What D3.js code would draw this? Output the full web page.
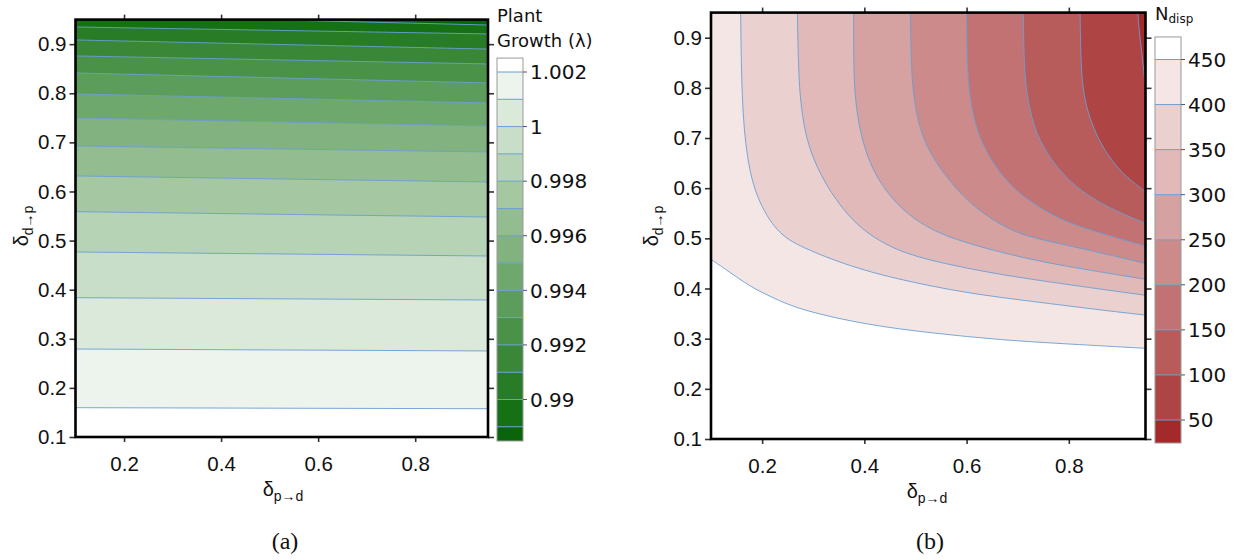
<!DOCTYPE html>
<html>
<head>
<meta charset="utf-8">
<script src="https://cdn.jsdelivr.net/npm/d3@7"></script>
<style>
  body { margin: 0; background: #fff; }
  svg { display: block; }
</style>
</head>
<body>
<div id="chart"></div>
<script>
// shared axis ticks
const xTickValues = [0.2, 0.4, 0.6, 0.8]
const yTickValues = [0.1, 0.2, 0.3, 0.4, 0.5, 0.6, 0.7, 0.8, 0.9]
const domainXY = [0.1, 0.95]

// (a) plant growth lambda: contour levels, colour of band just below each level
const lambdaLevels = [1.002, 1.001, 1.0, 0.999, 0.998, 0.997, 0.996, 0.995, 0.994, 0.993, 0.992, 0.991, 0.99, 0.989]
const lambdaColors = ["#edf4ed", "#dbe9da", "#c9dec8", "#b7d3b5", "#a5c8a3", "#93bd91", "#81b27f",
  "#6fa86d", "#5d9d5b", "#4b9249", "#398737", "#277c25", "#157113", "#0a650a"]
// contour lines, [δp→d, δd→p]
const lambdaLines = [
  [[0.1, 0.1597], [0.95, 0.1576]],
  [[0.1, 0.2792], [0.95, 0.2752]],
  [[0.1, 0.3837], [0.95, 0.379]],
  [[0.1, 0.4768], [0.95, 0.4686]],
  [[0.1, 0.5589], [0.95, 0.548]],
  [[0.1, 0.6316], [0.95, 0.6193]],
  [[0.1, 0.6927], [0.95, 0.6804]],
  [[0.1, 0.7497], [0.95, 0.7334]],
  [[0.1, 0.7986], [0.95, 0.7802]],
  [[0.1, 0.8413], [0.95, 0.821]],
  [[0.1, 0.876], [0.95, 0.8597]],
  [[0.1, 0.9086], [0.95, 0.89]],
  [[0.1, 0.935], [0.95, 0.9208]],
  [[0.494, 0.95], [0.95, 0.939]]
]
const lambdaRange = [0.98848, 1.00251]
const lambdaTickValues = [0.99, 0.992, 0.994, 0.996, 0.998, 1.0, 1.002]
const lambdaTickLabels = ["0.99", "0.992", "0.994", "0.996", "0.998", "1", "1.002"]

// (b) N_disp
const ndispLevels = [450, 400, 350, 300, 250, 200, 150, 100, 50]
const ndispColors = ["#f5e6e6", "#ebd0d0", "#e1b9b9", "#d6a1a1", "#cc8a8a", "#c27272", "#b85b5b", "#ae4444", "#a42a2a"]
const ndispLines = [
  [[0.1, 0.458], [0.1308, 0.4369], [0.1765, 0.4036], [0.2222, 0.3811], [0.2745, 0.3572], [0.4053, 0.3273],
    [0.5359, 0.3107], [0.6667, 0.2974], [0.7974, 0.2894], [0.95, 0.2808]],
  [[0.158, 0.95], [0.16, 0.775], [0.17, 0.656], [0.19, 0.577], [0.229, 0.511], [0.2745, 0.483],
    [0.3725, 0.4435], [0.471, 0.417], [0.601, 0.3905], [0.731, 0.374], [0.863, 0.357], [0.95, 0.347]],
  [[0.269, 0.95], [0.271, 0.842], [0.2745, 0.776], [0.284, 0.709], [0.3006, 0.656], [0.327, 0.603],
    [0.359, 0.5565], [0.395, 0.518], [0.44, 0.488], [0.4967, 0.4634], [0.614, 0.437], [0.732, 0.417], [0.95, 0.3865]],
  [[0.379, 0.95], [0.379, 0.842], [0.382, 0.776], [0.392, 0.709], [0.412, 0.643], [0.4445, 0.59],
    [0.4837, 0.548], [0.535, 0.514], [0.601, 0.49], [0.6994, 0.4634], [0.7974, 0.4435], [0.95, 0.4184]],
  [[0.49, 0.95], [0.4916, 0.842], [0.4967, 0.776], [0.51, 0.709], [0.536, 0.656], [0.575, 0.603],
    [0.621, 0.5565], [0.683, 0.5167], [0.732, 0.5], [0.83, 0.479], [0.95, 0.45]],
  [[0.6, 0.95], [0.601, 0.842], [0.6065, 0.776], [0.621, 0.709], [0.647, 0.656], [0.686, 0.603],
    [0.7386, 0.563], [0.7974, 0.53], [0.8955, 0.5], [0.95, 0.4848]],
  [[0.711, 0.95], [0.7124, 0.842], [0.719, 0.776], [0.735, 0.709], [0.765, 0.656], [0.804, 0.61],
    [0.85, 0.5765], [0.902, 0.55], [0.95, 0.53]],
  [[0.822, 0.95], [0.8235, 0.842], [0.83, 0.776], [0.8465, 0.7226], [0.869, 0.676], [0.902, 0.63], [0.95, 0.593]],
  [[0.935, 0.95], [0.938, 0.909], [0.9445, 0.8556], [0.95, 0.799]]
]
const ndispRange = [24.5, 475]
const ndispTickValues = [50, 100, 150, 200, 250, 300, 350, 400, 450]
const ndispTickLabels = ["50", "100", "150", "200", "250", "300", "350", "400", "450"]

const lineColor = "#6a9fd4"
const sans = "Liberation Sans, Arial, sans-serif"
const legendFont = "DejaVu Sans, Verdana, sans-serif"

const svg = d3.select("#chart").append("svg")
  .attr("width", 1236).attr("height", 560)
  .attr("viewBox", [0, 0, 1236, 560])

function contourPanel({ id, x, y, levels, colors, lines }) {
  const g = svg.append("g")
  const [x0, x1] = x.range()
  const [y0, y1] = y.range()

  g.append("defs").append("clipPath").attr("id", id)
    .append("rect")
    .attr("x", x0).attr("y", y1)
    .attr("width", x1 - x0).attr("height", y0 - y1)

  const plot = g.append("g").attr("clip-path", `url(#${id})`)
  plot.append("rect")
    .attr("x", x0).attr("y", y1)
    .attr("width", x1 - x0).attr("height", y0 - y1)
    .attr("fill", "#fff")

  const line = d3.line()
    .x(d => x(d[0]))
    .y(d => y(d[1]))
    .curve(d3.curveBasis)
  // region on the low side of each contour = towards top / top right
  const region = pts =>
    line(pts) + `L${x(0.95)},${y(0.95)}L${x(0.1)},${y(0.95)}Z`

  plot.selectAll("path.band")
    .data(levels.map((l, i) => i))
    .join("path")
    .attr("class", "band")
    .attr("d", i => region(lines[i]))
    .attr("fill", i => colors[i])

  plot.selectAll("path.iso")
    .data(lines)
    .join("path")
    .attr("class", "iso")
    .attr("d", line)
    .attr("fill", "none")
    .attr("stroke", lineColor)
    .attr("stroke-width", 1)
    .attr("stroke-opacity", 0.9)

  const styleAxis = sel => {
    sel.select(".domain").remove()
    sel.selectAll(".tick line").attr("stroke", "#333").attr("stroke-width", 1.6)
    sel.selectAll(".tick text")
      .attr("fill", "#111")
      .style("font-family", sans)
      .style("font-size", "20.5px")
  }
  const fmt = d3.format(".1f")
  g.append("g").attr("transform", `translate(0,${y0})`)
    .call(d3.axisBottom(x).tickValues(xTickValues).tickSize(5).tickPadding(14).tickFormat(fmt))
    .call(styleAxis)
  g.append("g").attr("transform", `translate(0,${y1})`)
    .call(d3.axisTop(x).tickValues(xTickValues).tickSize(5).tickFormat(""))
    .call(styleAxis)
  g.append("g").attr("transform", `translate(${x0},0)`)
    .call(d3.axisLeft(y).tickValues(yTickValues).tickSize(6).tickPadding(3).tickFormat(fmt))
    .call(styleAxis)
  g.append("g").attr("transform", `translate(${x1},0)`)
    .call(d3.axisRight(y).tickValues(yTickValues).tickSize(6).tickFormat(""))
    .call(styleAxis)

  g.append("rect")
    .attr("x", x0).attr("y", y1)
    .attr("width", x1 - x0).attr("height", y0 - y1)
    .attr("fill", "none")
    .attr("stroke", "#000")
    .attr("stroke-width", 2.6)
  return g
}

function legendBar({ scale, left, levels, colors, range, tickValues, tickLabels }) {
  const g = svg.append("g")
  const w = 26
  // top band above the highest level stays white
  g.append("rect")
    .attr("x", left).attr("width", w)
    .attr("y", scale(range[1]))
    .attr("height", scale(levels[0]) - scale(range[1]))
    .attr("fill", "#fff")
  g.selectAll("rect.band")
    .data(levels.map((l, i) => i))
    .join("rect")
    .attr("class", "band")
    .attr("x", left).attr("width", w)
    .attr("y", i => scale(levels[i]))
    .attr("height", i => scale(i + 1 < levels.length ? levels[i + 1] : range[0]) - scale(levels[i]))
    .attr("fill", i => colors[i])
  g.selectAll("line.iso")
    .data(levels)
    .join("line")
    .attr("class", "iso")
    .attr("x1", left).attr("x2", left + w)
    .attr("y1", d => scale(d)).attr("y2", d => scale(d))
    .attr("stroke", lineColor)
    .attr("stroke-width", 1)
  g.append("rect")
    .attr("x", left).attr("width", w)
    .attr("y", scale(range[1]))
    .attr("height", scale(range[0]) - scale(range[1]))
    .attr("fill", "none")
    .attr("stroke", "#999")
    .attr("stroke-width", 1)
  g.selectAll("line.tk")
    .data(tickValues)
    .join("line")
    .attr("class", "tk")
    .attr("x1", left + w).attr("x2", left + w + 4)
    .attr("y1", d => scale(d)).attr("y2", d => scale(d))
    .attr("stroke", "#555")
    .attr("stroke-width", 1)
  g.selectAll("text.tl")
    .data(tickValues)
    .join("text")
    .attr("class", "tl")
    .attr("x", left + w + 7)
    .attr("y", d => scale(d))
    .attr("dy", "0.36em")
    .attr("fill", "#111")
    .style("font-family", legendFont)
    .style("font-size", "20px")
    .text((d, i) => tickLabels[i])
  return g
}

function deltaLabel(g, main, sub, attrs) {
  const t = g.append("text")
    .attr("text-anchor", "middle")
    .attr("fill", "#111")
    .style("font-family", sans)
    .style("font-size", "20px")
  Object.entries(attrs).forEach(([k, v]) => t.attr(k, v))
  t.append("tspan").text(main)
  t.append("tspan").attr("dy", 5).style("font-size", "14px").text(sub)
  return t
}

// ---- panel (a)
const xA = d3.scaleLinear().domain(domainXY).range([75.5, 488])
const yA = d3.scaleLinear().domain(domainXY).range([437, 19.6])
contourPanel({ id: "clip-a", x: xA, y: yA, levels: lambdaLevels, colors: lambdaColors, lines: lambdaLines })

const lamY = d3.scaleLinear().domain([0.99, 1.002]).range([399.5, 72])
legendBar({
  scale: lamY, left: 497, levels: lambdaLevels, colors: lambdaColors,
  range: lambdaRange, tickValues: lambdaTickValues, tickLabels: lambdaTickLabels
})
svg.append("text").attr("x", 497).attr("y", 21.5)
  .style("font-family", legendFont).style("font-size", "18px").attr("fill", "#111")
  .text("Plant")
svg.append("text").attr("x", 497).attr("y", 46.5)
  .style("font-family", legendFont).style("font-size", "18px").attr("fill", "#111")
  .text("Growth (λ)")

deltaLabel(svg, "δ", "p→d", { x: 283, y: 496 })
deltaLabel(svg, "δ", "d→p", { transform: "translate(28,226) rotate(-90)" })

// ---- panel (b)
const xB = d3.scaleLinear().domain(domainXY).range([711, 1145.5])
const yB = d3.scaleLinear().domain(domainXY).range([439, 12.6])
contourPanel({ id: "clip-b", x: xB, y: yB, levels: ndispLevels, colors: ndispColors, lines: ndispLines })

const nY = d3.scaleLinear().domain([50, 450]).range([420, 59.5])
legendBar({
  scale: nY, left: 1155, levels: ndispLevels, colors: ndispColors,
  range: ndispRange, tickValues: ndispTickValues, tickLabels: ndispTickLabels
})
const nt = svg.append("text").attr("x", 1155).attr("y", 20)
  .style("font-family", legendFont).style("font-size", "18px").attr("fill", "#111")
nt.append("tspan").text("N")
nt.append("tspan").attr("dy", 3).style("font-size", "12px").text("disp")

deltaLabel(svg, "δ", "p→d", { x: 927, y: 498 })
deltaLabel(svg, "δ", "d→p", { transform: "translate(658,226) rotate(-90)" })

// captions
svg.append("text").attr("x", 285).attr("y", 549).attr("text-anchor", "middle")
  .style("font-family", "Liberation Serif, Times New Roman, serif").style("font-size", "24px")
  .attr("fill", "#111").text("(a)")
svg.append("text").attr("x", 930).attr("y", 549).attr("text-anchor", "middle")
  .style("font-family", "Liberation Serif, Times New Roman, serif").style("font-size", "24px")
  .attr("fill", "#111").text("(b)")
</script>
</body>
</html>
